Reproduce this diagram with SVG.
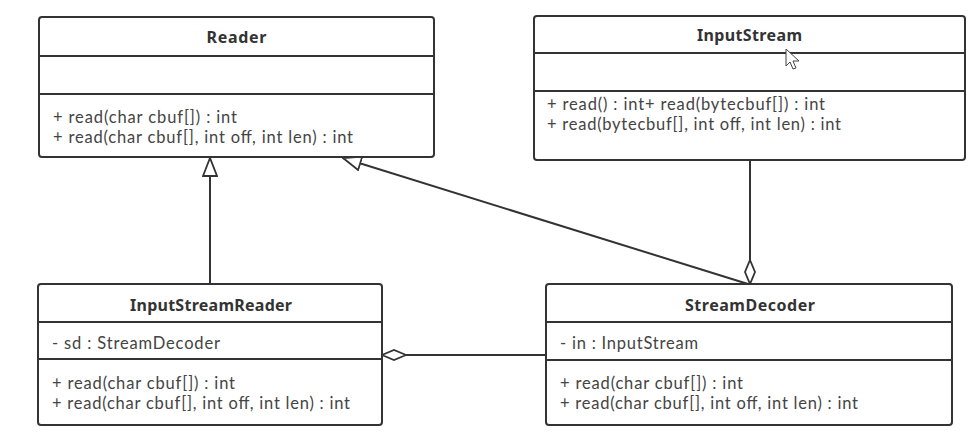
<svg xmlns="http://www.w3.org/2000/svg" width="974" height="445" viewBox="0 0 974 445">
<defs>
<style>
.box{fill:#fff;stroke:#333;stroke-width:2}
.div{stroke:#333;stroke-width:2}
.title{font-family:"Noto Sans","Open Sans",sans-serif;font-size:16px;font-weight:bold;fill:#333;text-anchor:middle}
.mem{font-family:Lato,"Noto Sans",sans-serif;font-size:16.5px;fill:#444}
.ln{stroke:#333;stroke-width:2;fill:none}
</style>
<marker id="tri" viewBox="0 0 20 16" refX="19" refY="8" markerWidth="20" markerHeight="16" markerUnits="userSpaceOnUse" orient="auto">
<path d="M1,1 L19,8 L1,15 Z" fill="#fff" stroke="#333" stroke-width="1.8"/>
</marker>
<marker id="dia" viewBox="0 0 26 12" refX="25" refY="6" markerWidth="26" markerHeight="12" markerUnits="userSpaceOnUse" orient="auto">
<path d="M1,6 L13,1 L25,6 L13,11 Z" fill="#fff" stroke="#333" stroke-width="1.8"/>
</marker>
</defs>
<rect width="974" height="445" fill="#fff"/>
<g id="connectors">
<line class="ln" x1="210" y1="284" x2="210" y2="158" marker-end="url(#tri)"/>
<line class="ln" x1="748" y1="284" x2="343" y2="158" marker-end="url(#tri)"/>
<line class="ln" x1="750" y1="160" x2="750" y2="284" marker-end="url(#dia)"/>
<line class="ln" x1="546" y1="355" x2="382" y2="355" marker-end="url(#dia)"/>
</g>
<g id="Reader">
<rect class="box" x="39" y="17" width="395" height="140" rx="3"/>
<line class="div" x1="39" y1="56" x2="434" y2="56"/>
<line class="div" x1="39" y1="94" x2="434" y2="94"/>
<text class="title" x="236.5" y="43" textLength="60">Reader</text>
<text class="mem" x="53" y="123" textLength="184">+ read(char cbuf[]) : int</text>
<text class="mem" x="53" y="143" textLength="300">+ read(char cbuf[], int off, int len) : int</text>
</g>
<g id="InputStream">
<rect class="box" x="534" y="16" width="431" height="144" rx="3"/>
<line class="div" x1="534" y1="53" x2="965" y2="53"/>
<line class="div" x1="534" y1="91" x2="965" y2="91"/>
<text class="title" x="749.5" y="41" textLength="105">InputStream</text>
<text class="mem" x="547" y="110" textLength="278">+ read() : int+ read(bytecbuf[]) : int</text>
<text class="mem" x="547" y="130" textLength="294">+ read(bytecbuf[], int off, int len) : int</text>
<path d="M786,49 L786,66 L790,62 L793,69 L796,68 L793,61 L799,61 Z" fill="#fff" stroke="#444" stroke-width="1"/>
</g>
<g id="InputStreamReader">
<rect class="box" x="38" y="284" width="344" height="141" rx="3"/>
<line class="div" x1="38" y1="322" x2="382" y2="322"/>
<line class="div" x1="38" y1="359" x2="382" y2="359"/>
<text class="title" x="211" y="311" textLength="162">InputStreamReader</text>
<text class="mem" x="52" y="349" textLength="168">- sd : StreamDecoder</text>
<text class="mem" x="52" y="389" textLength="183">+ read(char cbuf[]) : int</text>
<text class="mem" x="52" y="409" textLength="298">+ read(char cbuf[], int off, int len) : int</text>
</g>
<g id="StreamDecoder">
<rect class="box" x="546" y="284" width="406" height="141" rx="3"/>
<line class="div" x1="546" y1="322" x2="952" y2="322"/>
<line class="div" x1="546" y1="360" x2="952" y2="360"/>
<text class="title" x="750" y="311" textLength="130">StreamDecoder</text>
<text class="mem" x="560" y="349" textLength="138">- in : InputStream</text>
<text class="mem" x="560" y="389" textLength="183">+ read(char cbuf[]) : int</text>
<text class="mem" x="560" y="409" textLength="298">+ read(char cbuf[], int off, int len) : int</text>
</g>
</svg>
